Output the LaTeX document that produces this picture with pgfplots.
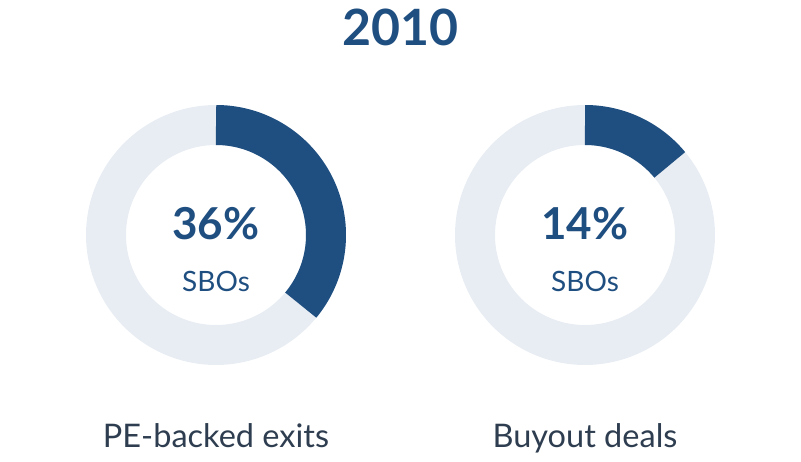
\documentclass[border=0pt]{standalone}
\usepackage{pgfplots}
\pgfplotsset{compat=1.18}
\usepgfplotslibrary{polar}
\usepackage{fontspec}
\setmainfont{Lato}
\definecolor{dkblue}{HTML}{1F4E80}
\definecolor{ltring}{HTML}{E8EDF3}
\definecolor{lbl}{HTML}{2E3E50}
% share of SBOs (percent)
\def\valA{36}
\def\valB{14}
\pgfplotsset{donut/.style={hide axis, scale only axis, width=260pt, height=260pt,
  xmin=0, xmax=360, ymin=0, ymax=130, clip=false, anchor=center}}
\begin{document}
\begin{tikzpicture}[x=1pt,y=1pt]
\path[use as bounding box] (0,0) rectangle (801,461);
\node[anchor=base, font=\fontsize{50}{50}\selectfont\bfseries, text=dkblue] at (400,415) {2010};

\begin{polaraxis}[donut, at={(216pt,226pt)}]
\addplot[ltring, line width=40pt, domain=-5:365, samples=186, no markers] {110};
\addplot[dkblue, line width=40pt, domain=90-3.6*\valA:90, samples=100, no markers] {110};
\end{polaraxis}
\begin{polaraxis}[donut, at={(585pt,226pt)}]
\addplot[ltring, line width=40pt, domain=-5:365, samples=186, no markers] {110};
\addplot[dkblue, line width=40pt, domain=90-3.6*\valB:90, samples=100, no markers] {110};
\end{polaraxis}

\node[anchor=base, font=\fontsize{44}{44}\selectfont\bfseries, text=dkblue] at (216,221) {\valA\%};
\node[anchor=base, font=\fontsize{28}{28}\selectfont, text=dkblue] at (216,169) {SBOs};
\node[anchor=base, font=\fontsize{44}{44}\selectfont\bfseries, text=dkblue] at (585,221) {\valB\%};
\node[anchor=base, font=\fontsize{28}{28}\selectfont, text=dkblue] at (585,169) {SBOs};
\node[anchor=base, font=\fontsize{32.5}{32.5}\selectfont, text=lbl] at (216,14) {PE-backed exits};
\node[anchor=base, font=\fontsize{32.5}{32.5}\selectfont, text=lbl] at (585,14) {Buyout deals};
\end{tikzpicture}
\end{document}
